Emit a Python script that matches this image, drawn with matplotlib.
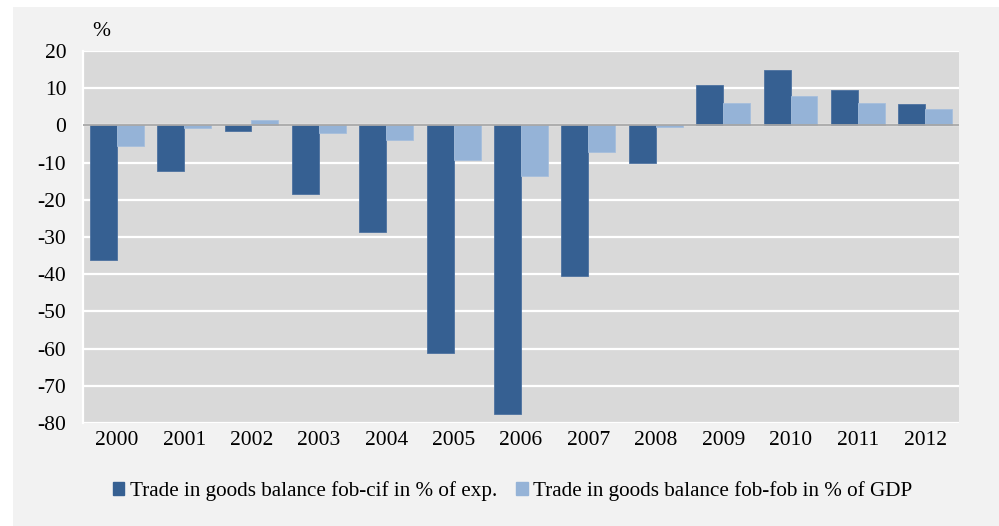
import matplotlib.pyplot as plt
import matplotlib.patches as mpatches
import numpy as np

years = ['2000', '2001', '2002', '2003', '2004', '2005', '2006',
         '2007', '2008', '2009', '2010', '2011', '2012']
fob_cif = [-36.1, -12.2, -1.5, -18.4, -28.6, -61.3, -77.6,
           -40.4, -10.1, 10.9, 14.9, 9.4, 5.8]
fob_fob = [-5.5, -0.8, 1.5, -2.0, -3.9, -9.2, -13.5,
           -7.1, -0.5, 6.0, 7.9, 6.0, 4.4]
labels = ['Trade in goods balance fob-cif in % of exp.',
          'Trade in goods balance fob-fob in % of GDP']

dark = '#366092'
light = '#95b3d7'

plt.rcParams['font.family'] = ['Liberation Serif', 'DejaVu Serif']
plt.rcParams['axes.unicode_minus'] = False

fig = plt.figure(figsize=(9.99, 5.26), dpi=100, facecolor='white')
# light grey chart area with a thin white margin top/left
fig.patches.append(mpatches.Rectangle((13 / 999, 0), 1, (526 - 7) / 526,
                                      transform=fig.transFigure,
                                      facecolor='#f2f2f2', edgecolor='none',
                                      zorder=-10))

ax = fig.add_axes([83 / 999, 103 / 526, 876 / 999, 372 / 526])
ax.set_facecolor('#d9d9d9')

x = np.arange(len(years))
w = 0.4
ax.bar(x - w / 2, fob_cif, w, color=dark, edgecolor='#4d72a0', linewidth=0.6,
       label=labels[0], zorder=3)
ax.bar(x + w / 2, fob_fob, w, color=light, edgecolor='#a6bedc', linewidth=0.6,
       label=labels[1], zorder=3)
ax.axhline(0, color='#a6a6a6', linewidth=1.3, zorder=4)

ax.set_xlim(-0.5, len(years) - 0.5)
ax.set_ylim(-80, 20)
ax.set_yticks(range(-80, 21, 10))
ax.set_xticks(x)
ax.set_xticklabels(years)
ax.tick_params(axis='both', length=0, labelsize=15.5, colors='black')
ax.tick_params(axis='y', pad=12)
ax.tick_params(axis='x', pad=6)
ax.grid(axis='y', color='white', linewidth=1.6, zorder=1)
ax.set_axisbelow(True)

for s in ['top', 'right', 'bottom']:
    ax.spines[s].set_visible(False)
ax.spines['left'].set_color('white')
ax.spines['left'].set_linewidth(1.6)

fig.text(92 / 999, 1 - 32 / 526, '%', fontsize=15.5, va='center', ha='left')

handles = [mpatches.Patch(color=dark), mpatches.Patch(color=light)]
fig.legend(handles, labels, loc='center', bbox_to_anchor=(0.513, 1 - 491 / 526),
           ncol=2, frameon=False, fontsize=15.2, handlelength=0.55,
           handleheight=0.55, handletextpad=0.25, columnspacing=0.9)

fig.savefig('out.png', dpi=100, facecolor=fig.get_facecolor())
